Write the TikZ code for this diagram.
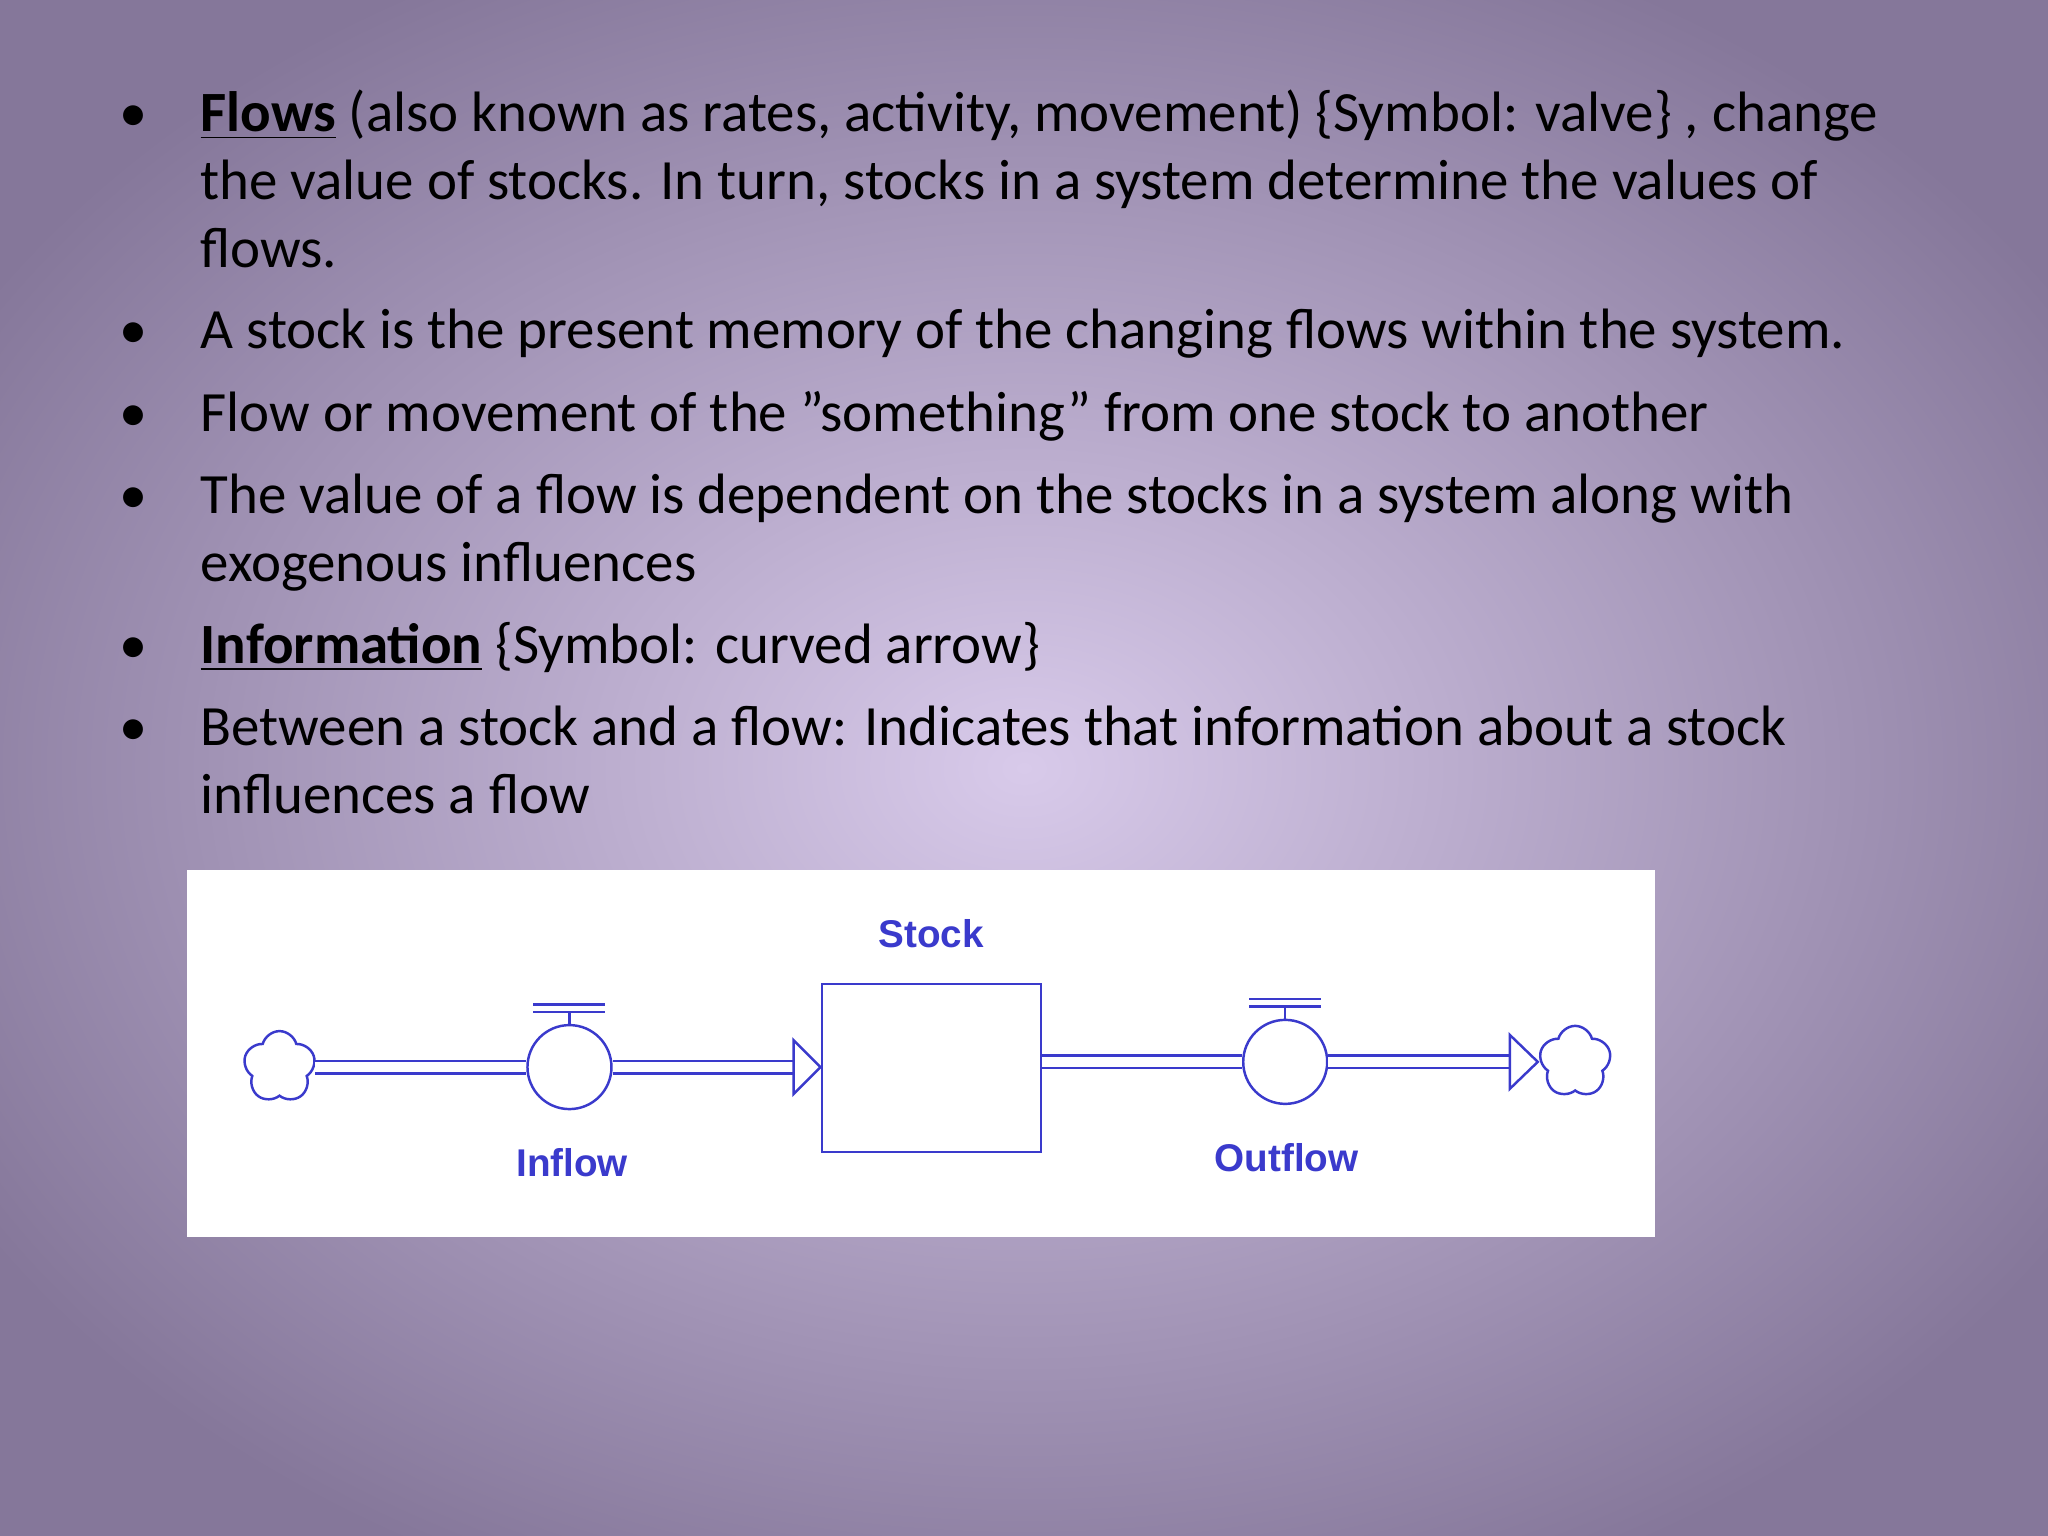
\documentclass[tikz,border=0pt]{standalone}
\usepackage{fontspec}
\setmainfont{Carlito}
\newfontfamily\lblfont{Liberation Sans}
\usetikzlibrary{shapes.symbols}
\definecolor{bgin}{HTML}{D8CAEA}
\definecolor{bgout}{HTML}{85779A}
\definecolor{dblue}{HTML}{3A3ACC}
\tikzset{
 txt/.style={anchor=base west,inner sep=0,font=\fontsize{16.2}{19}\selectfont},
 bul/.style={anchor=base,inner sep=0,font=\fontsize{16}{19}\selectfont},
 valve/.style={circle,draw=dblue,line width=0.7pt,minimum size=0.84cm,inner sep=0,fill=white},
 cloudn/.style={cloud,cloud puffs=5,draw=dblue,line width=0.7pt,minimum width=0.72cm,minimum height=0.72cm,inner sep=0,fill=white},
 pipe/.style={draw=dblue,line width=0.7pt,double=white,double distance=0.1cm},
 lbl/.style={text=dblue,font=\lblfont\bfseries\fontsize{11}{13}\selectfont}
}
\begin{document}
\begin{tikzpicture}[x=0.01306cm,y=-0.01306cm]
\useasboundingbox (0,0) rectangle (1568,1176);
\shade[inner color=bgin,outer color=bgout] (-150,-100) rectangle (1718,1276);
% bullets
\foreach \yy/\n in {101/b1,267/b2,330/b3,393/b4,508/b5,571/b6}
  \node[bul] (\n) at (102,\yy) {•};
\node[txt] (t1) at (153,101) {\underline{\textbf{Flows}} (also known as rates, activity, movement) \{Symbol: valve\} , change};
\node[txt] (t2) at (153,153) {the value of stocks. In turn, stocks in a system determine the values of};
\node[txt] (t3) at (153,205) {flows.};
\node[txt] (t4) at (153,267) {A stock is the present memory of the changing flows within the system.};
\node[txt] (t5) at (153,330) {Flow or movement of the \symbol{34}something\symbol{34} from one stock to another};
\node[txt] (t6) at (153,393) {The value of a flow is dependent on the stocks in a system along with};
\node[txt] (t7) at (153,445) {exogenous influences};
\node[txt] (t8) at (153,508) {\underline{\textbf{Information}} \{Symbol: curved arrow\}};
\node[txt] (t9) at (153,571) {Between a stock and a flow: Indicates that information about a stock};
\node[txt] (t10) at (153,623) {influences a flow};
% diagram
\fill[white] (143,666) rectangle (1267,947);
\node[draw=dblue,line width=0.7pt,minimum width=2.19cm,minimum height=1.68cm,inner sep=0] (stock) at (713,817.5) {};
\node[lbl] (stocklbl) at (713,715) {Stock};
\node[cloudn] (c1) at (214,817) {};
\node[cloudn] (c2) at (1206,813) {};
\node[valve] (v1) at (436,817) {};
\node[valve] (v2) at (984,813) {};
\node[lbl] (inl) at (438,890) {Inflow};
\node[lbl] (outl) at (985,886) {Outflow};
% valve tops
\foreach \v in {v1,v2}{
  \draw[dblue,line width=0.7pt] (\v.north) -- ++(0,-12) coordinate (\v s);
  \draw[dblue,line width=0.7pt,double=white,double distance=0.05cm] ([xshift=-0.36cm]\v s) -- ([xshift=0.36cm]\v s);
}
% pipes
\draw[pipe] (c1.east|-v1) -- (v1.west);
\draw[pipe] (v1.east) -- ([xshift=-0.27cm]stock.west|-v1) coordinate (a1);
\draw[dblue,line width=0.7pt,fill=white] ([yshift=0.27cm]a1) -- (stock.west|-v1) -- ([yshift=-0.27cm]a1) -- cycle;
\draw[pipe] (stock.east|-v2) -- (v2.west);
\draw[pipe] (v2.east) -- ([xshift=-0.3cm]c2.west|-v2) coordinate (a2);
\draw[dblue,line width=0.7pt,fill=white] ([yshift=0.27cm]a2) -- ([xshift=-0.02cm]c2.west|-v2) -- ([yshift=-0.27cm]a2) -- cycle;
\end{tikzpicture}
\end{document}
